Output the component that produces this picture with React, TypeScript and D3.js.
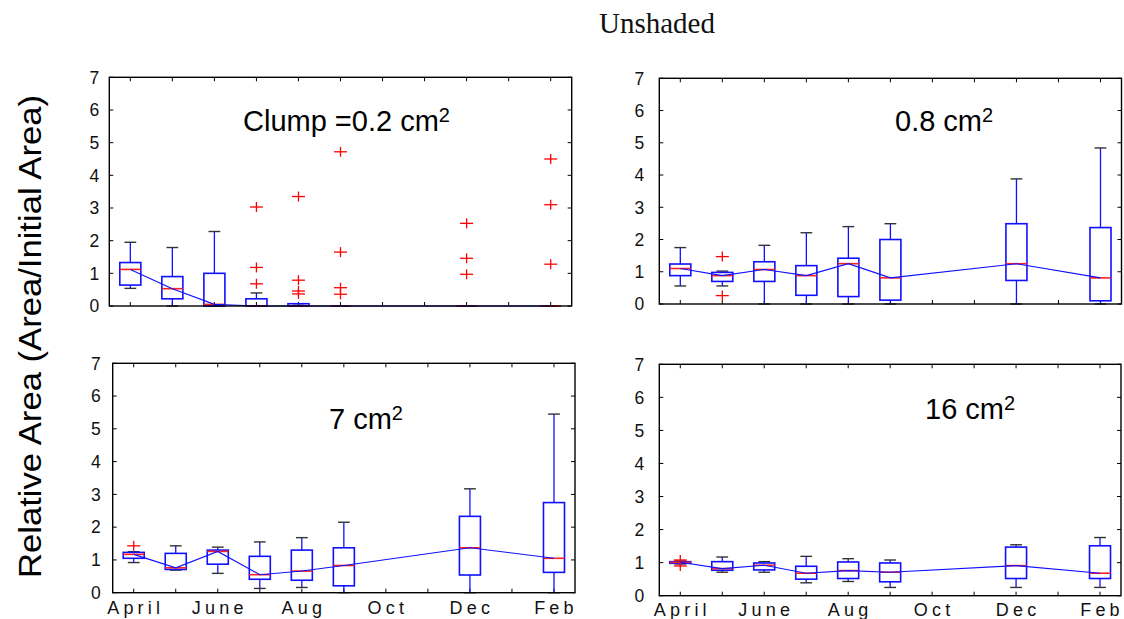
import React from "react";
import * as d3 from "d3";

// ---------- data ----------
const positions = [1, 2, 3, 4, 5, 6, 9, 11];
const monthTicks = [1, 3, 5, 7, 9, 11];
const monthLabels = ["April", "June", "Aug", "Oct", "Dec", "Feb"];
const yTicks = [0, 1, 2, 3, 4, 5, 6, 7];

// Panel 1: Clump = 0.2 cm2
const p1Low = [0.54, 0, 0, 0, 0, 0, 0, 0];
const p1Q1 = [0.64, 0.22, 0, 0, 0, 0, 0, 0];
const p1Med = [1.12, 0.53, 0.05, 0, 0, 0, 0, 0];
const p1Q3 = [1.33, 0.9, 1.0, 0.22, 0.07, 0, 0, 0];
const p1High = [1.95, 1.79, 2.28, 0.4, 0.07, 0, 0, 0];
const p1Out = [[], [], [], [3.03, 1.18, 0.68], [3.35, 0.79, 0.46, 0.37], [4.72, 1.65, 0.56, 0.36], [2.53, 1.46, 0.97], [4.5, 3.1, 1.28]];

// Panel 2: 0.8 cm2
const p2Low = [0.56, 0.56, 0, 0, 0, 0, 0, 0];
const p2Q1 = [0.88, 0.7, 0.7, 0.27, 0.23, 0.12, 0.73, 0.1];
const p2Med = [1.1, 0.88, 1.07, 0.88, 1.25, 0.81, 1.25, 0.81];
const p2Q3 = [1.24, 0.98, 1.31, 1.19, 1.42, 2.0, 2.49, 2.37];
const p2High = [1.75, 1.02, 1.82, 2.21, 2.4, 2.49, 3.88, 4.84];
const p2Out = [[], [1.47, 0.26], [], [], [], [], [], []];

// Panel 3: 7 cm2
const p3Low = [0.92, 0.69, 0.59, 0.13, 0.16, 0, 0, 0];
const p3Q1 = [1.05, 0.71, 0.87, 0.41, 0.38, 0.21, 0.54, 0.62];
const p3Med = [1.17, 0.76, 1.26, 0.55, 0.66, 0.83, 1.37, 1.05];
const p3Q3 = [1.23, 1.2, 1.3, 1.11, 1.3, 1.37, 2.33, 2.75];
const p3High = [1.25, 1.43, 1.39, 1.55, 1.68, 2.15, 3.17, 5.45];
const p3Out = [[1.43], [], [], [], [], [], [], []];

// Panel 4: 16 cm2
const p4Low = [0.96, 0.71, 0.71, 0.39, 0.43, 0.25, 0.25, 0.25];
const p4Q1 = [0.98, 0.77, 0.78, 0.5, 0.52, 0.42, 0.52, 0.52];
const p4Med = [1.01, 0.82, 0.92, 0.68, 0.76, 0.71, 0.91, 0.68];
const p4Q3 = [1.03, 1.03, 0.99, 0.89, 1.02, 0.99, 1.47, 1.51];
const p4High = [1.05, 1.17, 1.03, 1.19, 1.12, 1.08, 1.54, 1.76];
const p4Out = [[1.08, 0.9], [], [], [], [], [], [], []];

const titles = ["Clump =0.2 cm", "0.8 cm", "7 cm", "16 cm"];

// ---------- layout ----------
const layouts = [
  { l: 109.3, r: 571.7, t: 77.3, b: 306, tx: 243, ty: 131, lg: 10, showX: false, xb: 0 },
  { l: 659.3, r: 1121.5, t: 78.3, b: 304, tx: 895, ty: 131, lg: 15, showX: false, xb: 0 },
  { l: 112.7, r: 575, t: 363.3, b: 592.7, tx: 329, ty: 429, lg: 12, showX: true, xb: 614 },
  { l: 659.3, r: 1121, t: 364.3, b: 595.7, tx: 925, ty: 419, lg: 15, showX: true, xb: 616 },
];

const FONT = "Liberation Sans, Arial, Helvetica, sans-serif";
const BLUE = "#1010ff";

function Panel({ lay, low, q1, med, q3, high, outs, title }) {
  const x = d3.scaleLinear().domain([0.5, 11.5]).range([lay.l, lay.r]);
  const y = d3.scaleLinear().domain([0, 7]).range([lay.b, lay.t]);
  const bw = x(0.25) - x(0);
  const cw = x(0.14) - x(0);
  const line = d3
    .line<number>()
    .x((_, i) => x(positions[i]))
    .y((d) => y(d));
  const allTicks = d3.range(1, 12);
  return (
    <g>
      {allTicks.map((t) => (
        <g key={"xt" + t}>
          <line x1={x(t)} x2={x(t)} y1={lay.b} y2={lay.b - 4} stroke="#000" strokeWidth={1} />
          <line x1={x(t)} x2={x(t)} y1={lay.t} y2={lay.t + 4} stroke="#000" strokeWidth={1} />
        </g>
      ))}
      {yTicks.map((t) => (
        <g key={"yt" + t}>
          <line x1={lay.l} x2={lay.l + 4} y1={y(t)} y2={y(t)} stroke="#000" strokeWidth={1} />
          <line x1={lay.r} x2={lay.r - 4} y1={y(t)} y2={y(t)} stroke="#000" strokeWidth={1} />
          <text
            x={lay.l - lay.lg}
            y={y(t)}
            dy="0.36em"
            textAnchor="end"
            fontFamily={FONT}
            fontSize={17.5}
            fill="#111"
          >
            {t}
          </text>
        </g>
      ))}
      {lay.showX &&
        monthTicks.map((t, i) => (
          <text
            key={"xl" + t}
            x={x(t) + 2}
            y={lay.xb}
            textAnchor="middle"
            fontFamily={FONT}
            fontSize={18}
            letterSpacing={4.2}
            fill="#111"
          >
            {monthLabels[i]}
          </text>
        ))}
      {positions.map((p, i) => {
        const cx = x(p);
        return (
          <g key={"b" + p}>
            <line x1={cx} x2={cx} y1={y(q3[i])} y2={y(high[i])} stroke={BLUE} strokeWidth={1.3} />
            <line x1={cx} x2={cx} y1={y(q1[i])} y2={y(low[i])} stroke={BLUE} strokeWidth={1.3} />
            <line x1={cx - cw} x2={cx + cw} y1={y(high[i])} y2={y(high[i])} stroke="#333" strokeWidth={1.4} />
            <line x1={cx - cw} x2={cx + cw} y1={y(low[i])} y2={y(low[i])} stroke="#333" strokeWidth={1.4} />
            <rect
              x={cx - bw}
              y={y(q3[i])}
              width={2 * bw}
              height={Math.max(0, y(q1[i]) - y(q3[i]))}
              fill="none"
              stroke={BLUE}
              strokeWidth={1.6}
            />
            <line x1={cx - bw} x2={cx + bw} y1={y(med[i])} y2={y(med[i])} stroke="#ff2020" strokeWidth={1.6} />
            {outs[i].map((o, k) => (
              <g key={"o" + k}>
                <line x1={cx - 6.5} x2={cx + 6.5} y1={y(o)} y2={y(o)} stroke="#ff0000" strokeWidth={1.3} />
                <line x1={cx} x2={cx} y1={y(o) - 5} y2={y(o) + 5} stroke="#ff0000" strokeWidth={1.3} />
              </g>
            ))}
          </g>
        );
      })}
      <path d={line(med) || ""} fill="none" stroke={BLUE} strokeWidth={1.1} />
      <rect x={lay.l} y={lay.t} width={lay.r - lay.l} height={lay.b - lay.t} fill="none" stroke="#000" strokeWidth={1.4} />
      <text x={lay.tx} y={lay.ty} fontFamily={FONT} fontSize={29} fill="#000">
        {title}
        <tspan dy={-9.5} fontSize={20}>
          2
        </tspan>
      </text>
    </g>
  );
}

export default function App() {
  const panels = [
    { low: p1Low, q1: p1Q1, med: p1Med, q3: p1Q3, high: p1High, outs: p1Out },
    { low: p2Low, q1: p2Q1, med: p2Med, q3: p2Q3, high: p2High, outs: p2Out },
    { low: p3Low, q1: p3Q1, med: p3Med, q3: p3Q3, high: p3High, outs: p3Out },
    { low: p4Low, q1: p4Q1, med: p4Med, q3: p4Q3, high: p4High, outs: p4Out },
  ];
  return (
    <svg
      width={1124}
      height={619}
      style={{ position: "absolute", left: 0, top: 0, background: "#fff" }}
    >
      <rect x={0} y={0} width={1124} height={619} fill="#fff" />
      <text x={599} y={33} fontFamily="Liberation Serif, Times New Roman, serif" fontSize={29} fill="#111">
        Unshaded
      </text>
      <text
        transform="translate(41,336.5) rotate(-90)"
        textAnchor="middle"
        fontFamily={FONT}
        fontSize={31}
        textLength={483}
        lengthAdjust="spacingAndGlyphs"
        fill="#000"
      >
        Relative Area (Area/Initial Area)
      </text>
      {panels.map((p, i) => (
        <Panel key={i} lay={layouts[i]} title={titles[i]} {...p} />
      ))}
    </svg>
  );
}
